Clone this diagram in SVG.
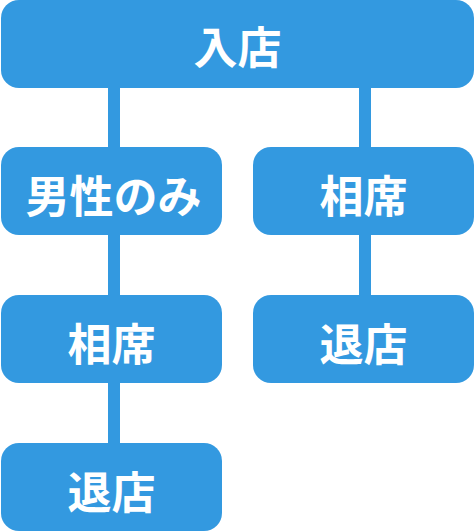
<svg xmlns="http://www.w3.org/2000/svg" width="475" height="532" viewBox="0 0 475 532">
<style>
.box{fill:#3399e0}
.lbl{fill:#fff;font-family:"Noto Sans CJK JP","Noto Sans CJK SC",sans-serif;font-weight:700;font-size:44px;text-anchor:middle;dominant-baseline:central}
.ln{stroke:#3399e0;stroke-width:12;fill:none}
</style>
<g id="connectors">
<line class="ln" x1="114" y1="80" x2="114" y2="455"/>
<line class="ln" x1="365" y1="80" x2="365" y2="305"/>
</g>
<g id="n1"><rect class="box" x="1" y="0" width="473" height="88" rx="18"/><text class="lbl" x="237.5" y="45">入店</text></g>
<g id="n2"><rect class="box" x="1" y="147" width="221" height="88" rx="18"/><text class="lbl" x="113.5" y="194">男性のみ</text></g>
<g id="n3"><rect class="box" x="253" y="147" width="221" height="88" rx="18"/><text class="lbl" x="363.5" y="194">相席</text></g>
<g id="n4"><rect class="box" x="1" y="295" width="221" height="88" rx="18"/><text class="lbl" x="111.5" y="342">相席</text></g>
<g id="n5"><rect class="box" x="253" y="295" width="221" height="88" rx="18"/><text class="lbl" x="363.5" y="342">退店</text></g>
<g id="n6"><rect class="box" x="1" y="443" width="221" height="88" rx="18"/><text class="lbl" x="111.5" y="490">退店</text></g>
</svg>
